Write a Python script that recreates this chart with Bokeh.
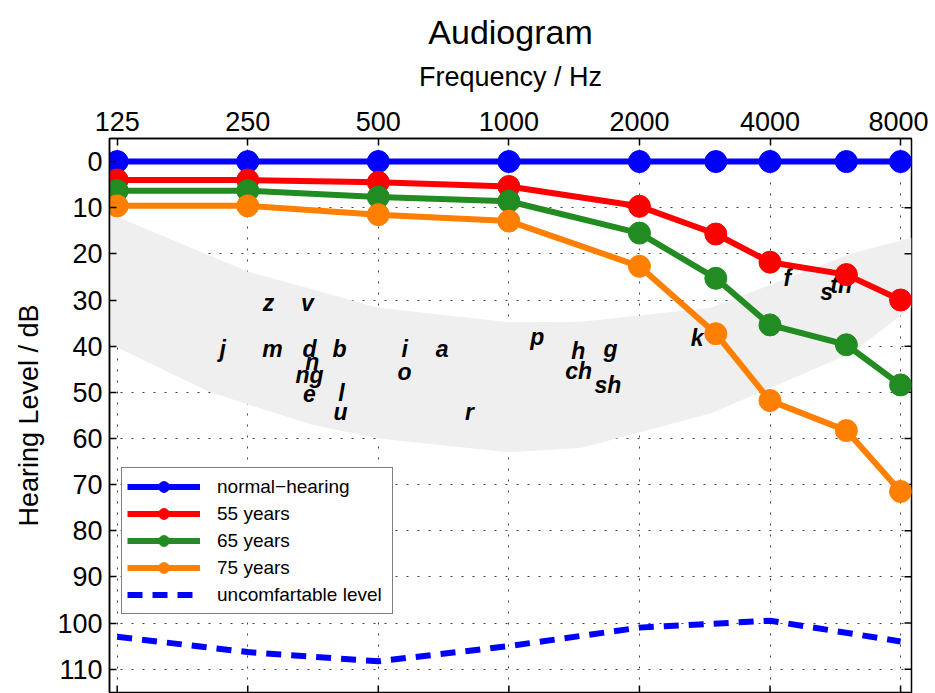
import math
from bokeh.plotting import figure
from bokeh.models import (Range1d, FixedTicker, PrintfTickFormatter,
                          Legend, LegendItem, ColumnDataSource)
from bokeh.core.properties import value
from bokeh.embed import file_html
from bokeh.resources import INLINE

# ---------------- data ----------------
freqs = [125, 250, 500, 1000, 2000, 3000, 4000, 6000, 8000]
normal_hearing = [0, 0, 0, 0, 0, 0, 0, 0, 0]
years_55 = [4.0, 4.0, 4.5, 5.4, 9.7, 15.7, 21.8, 24.5, 30.0]
years_65 = [6.3, 6.3, 7.7, 8.6, 15.5, 25.3, 35.4, 39.7, 48.4]
years_75 = [9.6, 9.6, 11.5, 12.9, 22.7, 37.3, 51.8, 58.3, 71.5]

ucl_freqs = [125, 250, 500, 1000, 2000, 4000, 8000]
ucl_level = [103.0, 106.3, 108.3, 105.0, 101.0, 99.5, 104.0]

banana_upper_f = [120, 250, 500, 1000, 1470, 2916, 6135, 8478]
banana_upper_l = [11.3, 23.8, 31.7, 34.8, 34.7, 31.7, 20.0, 16.5]
banana_lower_f = [120, 205, 350, 500, 1000, 1470, 2916, 6135, 8478]
banana_lower_l = [39.5, 50.0, 57.0, 60.0, 63.0, 62.0, 54.6, 41.6, 31.6]

phonemes = ["z", "v", "j", "m", "d", "b", "n", "ng", "e", "l", "u", "i", "o", "a", "r",
            "p", "h", "ch", "g", "sh", "k", "f", "s", "th"]
ph_freq = [279, 343, 219, 285, 347, 407, 352, 347, 347, 411, 409, 575, 575, 702, 811,
           1162, 1445, 1448, 1715, 1691, 2718, 4383, 5400, 5837]
ph_level = [30.6, 30.6, 40.6, 40.6, 40.6, 40.6, 43.5, 46.2, 50.3, 50.2, 54.3, 40.6, 45.7, 40.6, 54.3,
            38.1, 41.0, 45.4, 40.6, 48.4, 38.2, 25.2, 28.3, 26.7]

x_ticks = [125, 250, 500, 1000, 2000, 4000, 8000]
y_ticks = [0, 10, 20, 30, 40, 50, 60, 70, 80, 90, 100, 110]

X_LO, X_HI = 120, 8478
Y_TOP, Y_BOTTOM = -5.0, 115.06

FONT = "Liberation Sans"

p = figure(width=928, height=693, x_axis_type="log",
           x_range=Range1d(X_LO, X_HI), y_range=Range1d(Y_BOTTOM, Y_TOP),
           x_axis_location="above", output_backend="svg", toolbar_location=None,
           min_border_left=109, min_border_right=17, min_border_top=138, min_border_bottom=1)

p.title.text = "Audiogram"
p.title.align = "center"
p.title.vertical_align = "top"
p.title.text_font = FONT
p.title.text_font_size = "34px"
p.title.text_font_style = "normal"
p.title.text_color = "black"
p.title.standoff = 12

xt = FixedTicker(ticks=x_ticks)
yt = FixedTicker(ticks=y_ticks)

p.xaxis.ticker = xt
p.xaxis.formatter = PrintfTickFormatter(format="%d")
p.yaxis.ticker = yt
p.xaxis.axis_label = "Frequency / Hz"
p.yaxis.axis_label = "Hearing Level / dB"

for ax in [p.xaxis[0], p.yaxis[0]]:
    ax.axis_label_text_font = FONT
    ax.axis_label_text_font_size = "27px"
    ax.axis_label_text_font_style = "normal"
    ax.major_label_text_font = FONT
    ax.major_label_text_font_size = "27px"
    ax.major_tick_in = 7
    ax.major_tick_out = 0
    ax.minor_tick_line_color = None
    ax.axis_line_width = 1.5
    ax.major_tick_line_width = 1.5
    ax.axis_line_color = "black"
    ax.major_tick_line_color = "black"
    ax.major_label_text_color = "black"
    ax.axis_label_text_color = "black"

p.xaxis.major_label_standoff = 8
p.xaxis.axis_label_standoff = 17
p.yaxis.major_label_standoff = 7
p.yaxis.axis_label_standoff = 10

p.outline_line_color = "black"
p.outline_line_width = 1.5

p.xgrid.ticker = xt
p.ygrid.ticker = yt
for g in [p.xgrid[0], p.ygrid[0]]:
    g.grid_line_color = "#444444"
    g.grid_line_dash = "2 9"
    g.grid_line_width = 1

# speech banana
bx = banana_upper_f + banana_lower_f[::-1]
by = banana_upper_l + banana_lower_l[::-1]
p.patch(bx, by, fill_color="#efefef", line_color=None)

# phoneme letters
p.text(x=ph_freq, y=ph_level, text=phonemes, text_font=value(FONT), text_font_style="bold italic",
       text_font_size="23px", text_align="center", text_baseline="middle", text_color="black")

# inward tick marks on bottom and right frame edges
p.scatter(x=x_ticks, y=[Y_BOTTOM] * len(x_ticks), marker="dash", size=14, angle=math.pi / 2,
          line_color="black", line_width=1.5)
p.scatter(x=[X_HI] * len(y_ticks), y=y_ticks, marker="dash", size=14,
          line_color="black", line_width=1.5)

items = []
series = [("normal\u2212hearing", normal_hearing, "#0000ff"),
          ("55 years", years_55, "#ff0000"),
          ("65 years", years_65, "#228b22"),
          ("75 years", years_75, "#ff8000")]
for label, vals, col in series:
    src = ColumnDataSource(dict(f=freqs, v=vals))
    lr = p.line("f", "v", source=src, line_color=col, line_width=6)
    sr = p.scatter("f", "v", source=src, size=22, fill_color=col, line_color=col, marker="circle")
    items.append(LegendItem(label=label, renderers=[lr, sr]))

ur = p.line(ucl_freqs, ucl_level, line_color="#0000ff", line_width=6, line_dash="15 10")
items.append(LegendItem(label="uncomfartable level", renderers=[ur]))

legend = Legend(items=items, location=(12, 78), border_line_color="black", border_line_width=1,
                background_fill_color="white", background_fill_alpha=1,
                label_text_font=FONT, label_text_font_size="19px", label_text_color="black",
                glyph_width=73, glyph_height=27, label_height=22, spacing=0,
                padding=5, margin=0, label_standoff=17, label_width=170)
p.add_layout(legend)

open("out.html", "w").write(file_html(p, INLINE))
